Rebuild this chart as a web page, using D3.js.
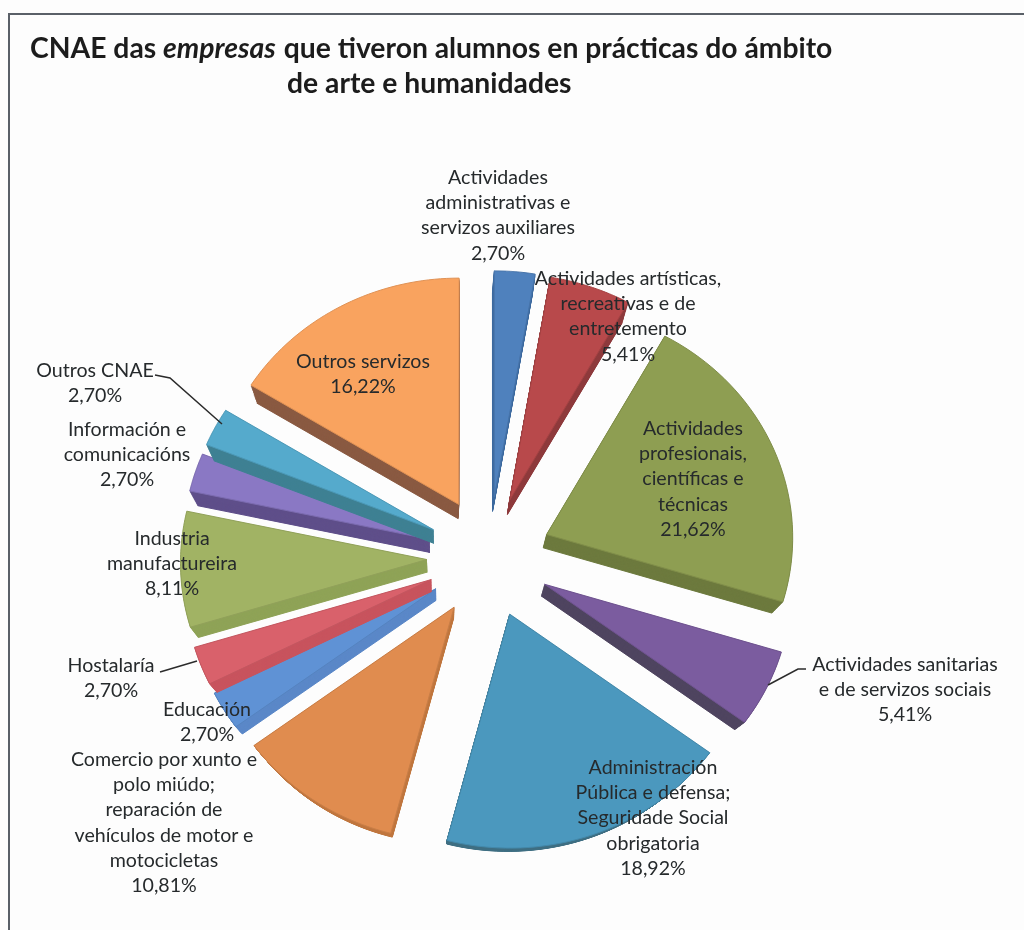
<!DOCTYPE html>
<html>
<head>
<meta charset="utf-8">
<script src="https://cdn.jsdelivr.net/npm/d3@7"></script>
<style>
  html, body { margin: 0; padding: 0; background: #fdfdfd; }
  svg { display: block; font-family: Lato, sans-serif; filter: blur(0.5px); }
</style>
</head>
<body>
<div id="chart"></div>
<script>
const categories = [
  'Actividades\nadministrativas e\nservizos auxiliares',
  'Actividades artísticas,\nrecreativas e de\nentretemento',
  'Actividades\nprofesionais,\ncientíficas e\ntécnicas',
  'Actividades sanitarias\ne de servizos sociais',
  'Administración\nPública e defensa;\nSeguridade Social\nobrigatoria',
  'Comercio por xunto e\npolo miúdo;\nreparación de\nvehículos de motor e\nmotocicletas',
  'Educación',
  'Hostalaría',
  'Industria\nmanufactureira',
  'Información e\ncomunicacións',
  'Outros CNAE',
  'Outros servizos'
];
const values = [2.70, 5.41, 21.62, 5.41, 18.92, 10.81, 2.70, 2.70, 8.11, 2.70, 2.70, 16.22];
const colors = ['#4f81bd', '#b8494b', '#8e9e52', '#7b5c9f', '#4b98be', '#e08c4f',
  '#5f92d5', '#d9616b', '#a1b364', '#8a78c4', '#55aacc', '#f9a35f'];
const wallColors = ['#3d6a9f', '#8e3a3c', '#6d7a3e', '#4f4560', '#3f6f83', '#c0773f',
  '#5b88c8', '#c8545e', '#8fa357', '#5f4f8a', '#3f8093', '#8a5a42'];

// where each label sits: centre x, first line y
const labelAnchors = [
  [498, 177], [628, 278], [693, 428], [905, 664], [653, 767], [164, 759],
  [207, 709], [111, 665], [172, 538], [127, 429], [95, 370], [363, 361]
];
const leaders = [
  [[806, 669], [798, 669], [768, 685]],
  [[160, 672], [197, 661]],
  [[155, 375], [170, 378], [222, 424]]
];

const width = 1024, height = 930;
const cx = 489, cy = 557;
const radius = 238, squash = 0.96, explode = 60;
const vanish = [440, 950], depth = 0.032, depthSteps = 16;
const lineGap = 25.3;

const svg = d3.select('#chart').append('svg')
  .attr('width', width)
  .attr('height', height);

svg.append('rect').attr('width', width).attr('height', height).attr('fill', '#fdfdfd');

// scan frame
svg.append('path')
  .attr('d', `M9,${height}V14H${width}`)
  .attr('fill', 'none')
  .attr('stroke', '#5a6068')
  .attr('stroke-width', 2);

// title
const title = svg.append('text')
  .attr('x', 30).attr('y', 58)
  .attr('font-size', 28.3).attr('font-weight', 700).attr('fill', '#1c1c1c');
title.append('tspan').text('CNAE das ');
title.append('tspan').attr('font-style', 'italic').text('empresas');
title.append('tspan').attr('dx', 8).text('que tiveron alumnos en prácticas do ámbito');
svg.append('text')
  .attr('x', 287).attr('y', 93)
  .attr('font-size', 28.3).attr('font-weight', 700).attr('fill', '#1c1c1c')
  .text('de arte e humanidades');

// pie, with a bit of perspective: things lower down come out larger
const pie = d3.pie().sort(null).value(d => d);
const arcs = pie(values);
const project = (x, y) => {
  const s = 1.007 + 0.00005 * y;
  return [cx + x * 1.028 * s, cy + y * s];
};

function facePoints(d) {
  const mid = (d.startAngle + d.endAngle) / 2;
  const ox = explode * Math.sin(mid), oy = -explode * Math.cos(mid);
  const rim = d3.range(0, 41).map(t => {
    const a = d.startAngle + (d.endAngle - d.startAngle) * t / 40;
    return project(ox + radius * Math.sin(a), oy - radius * Math.cos(a) * squash);
  });
  return [project(ox, oy), ...rim];
}

const outline = d3.line().curve(d3.curveLinearClosed);

const slices = svg.append('g').selectAll('g')
  .data(arcs)
  .join('g');

// wall: copies of the face pulled towards a vanishing point
slices.each(function (d, i) {
  const pts = facePoints(d);
  d3.range(depthSteps, 0, -1).forEach(s => {
    const k = depth * s / depthSteps;
    d3.select(this).append('path')
      .attr('d', outline(pts.map(p => [p[0] + (vanish[0] - p[0]) * k, p[1] + (vanish[1] - p[1]) * k])))
      .attr('fill', wallColors[i])
      .attr('stroke', wallColors[i]);
  });
  d3.select(this).append('path')
    .attr('d', outline(pts))
    .attr('fill', colors[i])
    .attr('stroke', d3.color(colors[i]).darker(0.3).formatHex())
    .attr('stroke-width', 1);
});

// leader lines
const line = d3.line();
svg.append('g').selectAll('path')
  .data(leaders)
  .join('path')
  .attr('d', line)
  .attr('fill', 'none')
  .attr('stroke', '#2b2b2b')
  .attr('stroke-width', 1.5);

// labels
const fmt = v => v.toFixed(2).replace('.', ',') + '%';
const labels = svg.append('g')
  .attr('font-size', 19.6)
  .attr('fill', '#262a2c')
  .attr('text-anchor', 'middle')
  .selectAll('text')
  .data(categories)
  .join('text');

labels.each(function (name, i) {
  const [x, y] = labelAnchors[i];
  const rows = name.split('\n').concat(fmt(values[i]));
  d3.select(this).selectAll('tspan')
    .data(rows)
    .join('tspan')
    .attr('x', x)
    .attr('y', (r, j) => y + j * lineGap)
    .attr('dy', '0.35em')
    .text(r => r);
});
</script>
</body>
</html>
